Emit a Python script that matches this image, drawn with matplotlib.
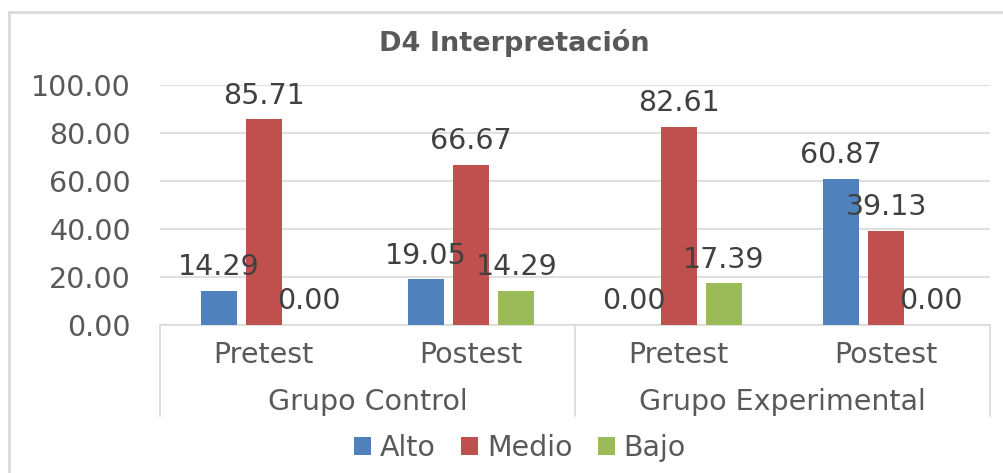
import matplotlib.pyplot as plt
from matplotlib.patches import Rectangle, Patch
import numpy as np

plt.rcParams['font.family'] = ['DejaVu Sans']

# data
subgroups = ['Pretest', 'Postest', 'Pretest', 'Postest']
groups = ['Grupo Control', 'Grupo Experimental']
series = ['Alto', 'Medio', 'Bajo']
alto = [14.29, 19.05, 0.00, 60.87]
medio = [85.71, 66.67, 82.61, 39.13]
bajo = [0.00, 14.29, 17.39, 0.00]
colors = ['#4F81BD', '#C0504D', '#9BBB59']

grid_c = '#D9D9D9'
text_c = '#595959'
lab_c = '#404040'
fs = 20.5

fig = plt.figure(figsize=(10.04, 4.73), dpi=100)
ax = fig.add_axes([160 / 1004, (473 - 325) / 473, 830 / 1004, 240 / 473])

x = np.arange(len(subgroups))
w = 0.174
step = 0.217
for i, (vals, col) in enumerate(zip([alto, medio, bajo], colors)):
    pos = x + (i - 1) * step
    ax.bar(pos, vals, width=w, color=col, zorder=3)
    for px, v in zip(pos, vals):
        ax.annotate('%.2f' % v, (px, v), xytext=(0, 17), textcoords='offset points',
                    ha='center', va='center', fontsize=fs, color=lab_c, zorder=4)

ax.set_xlim(-0.5, 3.5)
ax.set_ylim(0, 100)
ax.set_yticks(np.arange(0, 101, 20))
ax.set_yticklabels(['%.2f' % t for t in np.arange(0, 101, 20)])
ax.tick_params(axis='y', length=0, pad=21, labelsize=fs, labelcolor=text_c)
ax.set_xticks([])
ax.yaxis.grid(True, color=grid_c, linewidth=1.2, zorder=0)
for s in ['top', 'right', 'left']:
    ax.spines[s].set_visible(False)
ax.spines['bottom'].set_color(grid_c)
ax.spines['bottom'].set_linewidth(1.2)

# multi-level category axis
trans = ax.get_xaxis_transform()
for xi, lab in zip(x, subgroups):
    ax.text(xi, -0.125, lab, transform=trans, ha='center', va='center',
            fontsize=fs, color=text_c)
for gi, lab in enumerate(groups):
    ax.text(gi * 2 + 0.5, -0.32, lab, transform=trans, ha='center', va='center',
            fontsize=fs, color=text_c)
for xs in [-0.5, 1.5, 3.5]:
    ax.plot([xs, xs], [0, -0.38], transform=trans, color=grid_c, lw=1.2, clip_on=False)

fig.text(514 / 1004, (473 - 43) / 473, 'D4 Interpretación', ha='center', va='center',
         fontsize=19.5, fontweight='bold', color=text_c)

handles = [Patch(facecolor=c, label=s) for c, s in zip(colors, series)]
fig.legend(handles=handles, loc='center', bbox_to_anchor=(520 / 1004, (473 - 448) / 473),
           ncol=3, frameon=False, fontsize=fs, handlelength=0.6, handleheight=0.6,
           handletextpad=0.3, columnspacing=0.9, labelcolor=text_c)

# outer chart border
fig.patches.append(Rectangle((9 / 1004, -0.05), 1.1, (473 - 12) / 473 + 0.05,
                             transform=fig.transFigure, fill=False,
                             edgecolor=grid_c, lw=2))

fig.savefig('out.png', dpi=100)
